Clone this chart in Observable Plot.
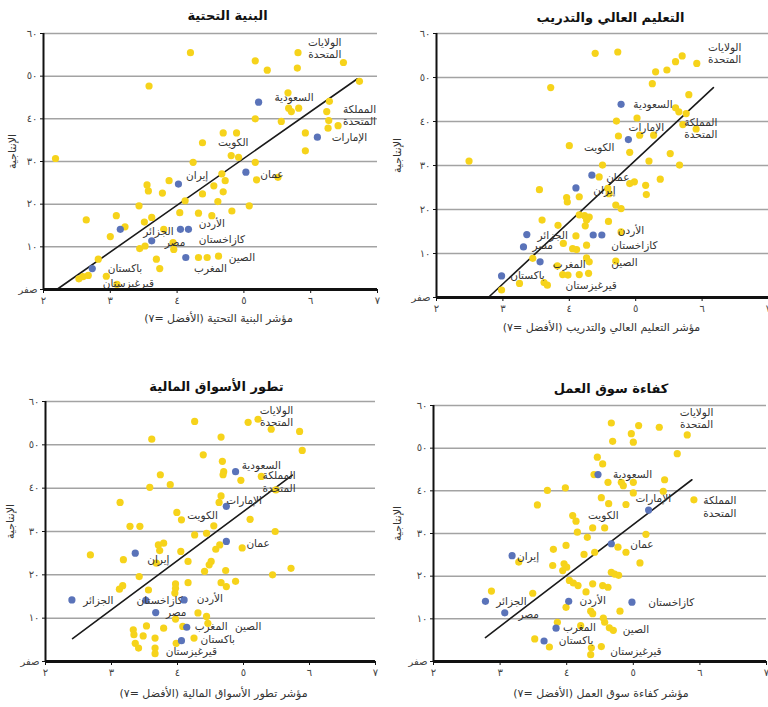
<!DOCTYPE html>
<html><head><meta charset="utf-8">
<script src="https://cdn.jsdelivr.net/npm/d3@7"></script>
<script src="https://cdn.jsdelivr.net/npm/@observablehq/plot@0.6"></script>
<style>
body{margin:0;background:#fff;}
#wrap{position:relative;width:768px;height:707px;overflow:hidden;background:#fff;}
.panel{position:absolute;}
</style></head><body><div id="wrap"></div>
<script>
// ---------- shared axis values ----------
const xTicks = [2, 3, 4, 5, 6, 7];
const yTicks = [0, 10, 20, 30, 40, 50, 60];
const yGrid = [10, 20, 30, 40, 50, 60];
const zeroLabel = "صفر";
const yTitle = "الإنتاجية";

// ---------- panel 1: infrastructure ----------
const infraTitle = "البنية التحتية";
const infraXLabel = "مؤشر البنية التحتية (الأفضل =٧)";
const infraYellow = [[4.2,55.5],[5.81,55.5],[5.17,53.6],[6.49,53.2],[5.35,51.4],[5.8,51.9],[6.73,48.8],[3.58,47.7],[5.66,46.1],[6.28,44.1],[5.67,42.5],[5.71,41.7],[5.82,42.5],[6.24,41.7],[5.17,40],[5.56,39.4],[6.27,39.6],[6.26,37.8],[6.41,38.4],[5.92,36.7],[4.69,36.7],[4.89,36.7],[4.38,34.4],[5.92,32.5],[4.81,31.4],[4.92,31],[2.18,30.7],[4.24,29.8],[5.17,29.8],[4.67,27.1],[4.72,25.5],[5.19,25.7],[5.51,26.3],[3.88,25.5],[3.55,24.5],[3.57,23.1],[3.78,22.6],[4.38,22.4],[4.55,24.3],[4.69,22.9],[4.12,20.8],[4.61,20.6],[5.08,19.6],[3.43,19.6],[4.04,18],[4.32,17.9],[4.52,17.3],[4.82,18.4],[3.09,17.3],[2.64,16.3],[3.62,16.9],[3.51,15.8],[3.22,14.7],[3.8,14.1],[3.0,12.4],[3.44,9.6],[3.52,10.2],[3.95,9.4],[3.94,11],[4.32,7.5],[4.45,7.5],[4.62,7.8],[3.69,7.1],[3.74,4.9],[2.82,7.1],[2.59,3],[2.53,2.5],[2.67,3.3],[3.1,1.2],[2.94,3.1]];
const infraBlue = [["السعودية",5.22,43.9],["الإمارات",6.1,35.7],["عمان",5.03,27.5],["إيران",4.02,24.7],["الأردن",4.05,14.1],["كازاخستان",4.17,14.1],["الجزائر",3.15,14.1],["مصر",3.62,11.4],["المغرب",4.13,7.5],["باكستان",2.73,4.9]];
const infraLabels = [["الولايات\nالمتحدة",6.21,56.6],["السعودية",5.75,45.1],["المملكة\nالمتحدة",6.73,40.8],["الإمارات",6.58,35.7],["الكويت",4.84,34.5],["عمان",5.42,27.1],["إيران",4.3,26.7],["الأردن",4.52,15.5],["الجزائر",3.72,13.7],["كازاخستان",4.67,11.8],["مصر",3.97,11],["الصين",4.97,7.6],["المغرب",4.5,5.1],["باكستان",3.22,5.1],["قيرغيزستان",3.27,1.6]];
const infraFit = [[2.2,0],[6.7,49.4]];

// ---------- panel 2: higher education and training ----------
const eduTitle = "التعليم العالي والتدريب";
const eduXLabel = "مؤشر التعليم العالي والتدريب (الأفضل =٧)";
const eduYellow = [[4.39,55.5],[4.73,55.8],[5.7,54.9],[5.6,53.6],[5.47,51.7],[5.3,51.3],[5.92,53.2],[5.25,48.6],[3.72,47.7],[5.8,46.1],[5.6,43.1],[5.65,42.2],[5.76,41.8],[4.71,40.1],[5.02,40.8],[5.71,39.3],[5.91,38.3],[4.74,36.7],[5.06,36.9],[5.27,36.9],[4.0,34.5],[4.91,33],[5.52,32.7],[5.2,31],[5.66,30.1],[2.49,31],[4.5,30.1],[4.45,27.4],[5.37,26.9],[4.91,25.9],[4.98,26.3],[5.15,25.5],[5.16,23.4],[4.58,24.8],[4.6,23.6],[3.55,24.5],[3.96,22.7],[3.97,21.7],[4.15,22.9],[4.7,21],[4.78,20.2],[4.23,18.6],[4.26,17.6],[4.3,18.3],[4.15,18.8],[3.59,17.6],[3.83,16.4],[4.24,16.3],[4.59,17.3],[4.78,14.9],[4.1,14],[3.91,12.3],[4.05,11.1],[4.11,10.9],[4.26,11.9],[4.26,9],[4.3,8.1],[4.7,8.3],[3.82,7.2],[3.9,5.2],[3.98,5.1],[4.15,5.2],[4.29,5.5],[3.62,3.4],[3.67,2.8],[3.25,3.2],[2.98,1.7],[3.45,8.9]];
const eduBlue = [["السعودية",4.78,43.9],["الإمارات",4.89,35.9],["عمان",4.34,27.8],["إيران",4.1,24.9],["الجزائر",3.36,14.3],["مصر",3.31,11.5],["الأردن",4.36,14.2],["كازاخستان",4.49,14.2],["المغرب",3.56,8.1],["باكستان",2.98,4.9]];
const eduLabels = [["الولايات\nالمتحدة",6.34,55.5],["السعودية",5.26,43.9],["الإمارات",5.16,38.8],["المملكة\nالمتحدة",5.98,38.4],["الكويت",4.45,34.2],["عمان",4.73,27.4],["إيران",4.53,24.4],["الأردن",4.93,15.3],["كازاخستان",4.98,11.9],["الجزائر",3.75,14.2],["مصر",3.6,11.9],["الصين",4.83,8.1],["المغرب",4.0,7.5],["باكستان",3.37,5.1],["قيرغيزستان",4.33,2.8]];
const eduFit = [[2.78,0],[6.17,47.7]];

// ---------- panel 3: financial market development ----------
const finTitle = "تطور الأسواق المالية";
const finXLabel = "مؤشر تطور الأسواق المالية (الأفضل =٧)";
const finYellow = [[4.26,55.4],[5.07,55.2],[5.22,55.9],[5.42,53.6],[5.85,53.1],[3.61,51.3],[4.66,51.8],[5.89,48.7],[4.39,47.7],[4.68,46.2],[4.7,43.8],[4.69,43.1],[3.74,43.1],[4.96,41.8],[5.27,42.7],[5.49,39.6],[3.89,40.8],[3.58,40.2],[3.13,36.7],[4.66,38.2],[4.63,36.7],[3.99,34.4],[4.06,32.7],[5.1,32.8],[3.28,31.2],[3.43,31.2],[4.55,31.3],[4.44,29.6],[4.26,29.2],[5.48,30],[3.71,26.9],[3.79,27.3],[3.73,25.6],[4.58,25.9],[4.64,26.9],[4.98,26.2],[4.05,25.4],[2.68,24.6],[3.18,23.5],[3.68,22.7],[4.16,23.1],[4.51,23.1],[4.48,22.3],[4.41,20.8],[4.73,21],[5.72,21.5],[5.44,20],[3.42,19.6],[4.16,18.2],[4.66,18.2],[4.74,17.3],[4.88,18.5],[3.97,17.9],[3.97,16.9],[3.96,15.8],[3.17,17.5],[3.12,16.7],[3.56,16.5],[4.31,11.2],[4.44,10.4],[4.46,8.8],[3.97,9.8],[4.08,8.1],[3.53,8.2],[3.79,7.7],[3.33,7.3],[3.34,6.2],[3.48,5.9],[3.36,4.2],[3.41,3.1],[3.66,5.4],[3.66,3.1],[3.66,1.8],[4.25,5.4],[3.98,4.2]];
const finBlue = [["السعودية",4.88,43.8],["الإمارات",4.74,35.8],["عمان",4.74,27.7],["إيران",3.36,25],["الجزائر",2.4,14.2],["الأردن",4.1,14.2],["كازاخستان",3.52,14.1],["مصر",3.67,11.3],["المغرب",4.14,7.9],["باكستان",4.06,4.8]];
const finLabels = [["الولايات\nالمتحدة",5.5,56.7],["السعودية",5.27,45.4],["المملكة\nالمتحدة",5.54,41.5],["الإمارات",5.01,37.3],["الكويت",4.38,33.8],["عمان",5.22,27.3],["إيران",3.71,23.6],["الجزائر",2.8,14.1],["كازاخستان",3.73,14.1],["الأردن",4.49,14.6],["مصر",3.98,11.5],["الصين",5.07,8.2],["المغرب",4.51,8.1],["باكستان",4.61,5.2],["قيرغيزستان",4.21,2.5]];
const finFit = [[2.41,5.3],[5.74,43]];

// ---------- panel 4: labour market efficiency ----------
const labTitle = "كفاءة سوق العمل";
const labXLabel = "مؤشر كفاءة سوق العمل (الأفضل =٧)";
const labYellow = [[4.67,55.9],[5.08,55.3],[5.39,54.9],[4.97,53.4],[5.0,51.4],[4.69,51.6],[5.81,53.1],[5.66,48.7],[4.46,47.9],[4.54,46.3],[4.41,43.8],[4.62,42],[4.82,42],[4.85,41.2],[5.0,42],[5.47,42.6],[5.45,39.9],[3.71,40.1],[3.98,40.7],[5.0,39.5],[4.52,38.4],[4.63,37],[4.89,36.8],[3.56,36.7],[5.91,37.9],[4.09,34.2],[4.14,32.9],[4.39,31.3],[4.57,31.3],[4.16,30.3],[4.31,29.1],[5.19,29.8],[3.99,27.2],[3.8,26.3],[4.77,26.8],[4.89,25.6],[4.26,25.1],[4.42,25.6],[3.28,23.3],[5.1,23.1],[3.79,22.5],[3.96,22.9],[4.0,22.1],[3.94,21.3],[4.67,20.9],[4.72,20.5],[4.78,20.2],[4.04,19],[4.1,18.4],[4.17,17.8],[4.39,18.2],[4.54,17.8],[4.62,17.4],[2.87,16.5],[3.49,16],[4.29,16.3],[3.99,12.7],[4.36,11.8],[4.39,11.2],[4.8,11.8],[4.55,10.2],[4.57,9.2],[3.86,9.2],[4.21,8.4],[4.64,7.9],[4.7,7.3],[3.52,5.3],[3.74,3.4],[4.37,3.2],[4.52,3.5],[4.36,1.6]];
const labBlue = [["السعودية",4.47,43.8],["الإمارات",5.23,35.5],["عمان",4.67,27.6],["إيران",3.18,24.8],["الجزائر",2.78,14.1],["مصر",3.07,11.4],["الأردن",4.03,14.1],["كازاخستان",4.98,13.9],["المغرب",3.84,7.8],["باكستان",3.66,4.8]];
const labLabels = [["الولايات\nالمتحدة",5.95,57.1],["السعودية",4.99,43.8],["الإمارات",5.3,38.4],["المملكة\nالمتحدة",6.3,36.3],["الكويت",4.55,34.2],["عمان",5.13,27.4],["إيران",3.42,24.8],["الجزائر",3.17,14.1],["مصر",3.43,11.2],["الأردن",4.39,14.3],["كازاخستان",5.57,13.9],["المغرب",4.19,8],["باكستان",4.14,4.9],["الصين",5.04,7.7],["قيرغيزستان",5.04,2.4]];
const labFit = [[2.78,5.6],[5.88,42.6]];

// ---------- helpers ----------
const digits = "٠١٢٣٤٥٦٧٨٩";
const toArabic = n => String(n).replace(/\d/g, d => digits[+d]);
const fmtY = n => n === 0 ? zeroLabel : toArabic(n);
const rtl = s => "\u200F" + s + "\u200F";

const YELLOW = "#f6d31b";
const BLUE = "#5a73b9";
const FONT = "'DejaVu Sans', 'Noto Sans', sans-serif";

const panels = [
  {title: infraTitle, xlabel: infraXLabel, yellow: infraYellow, blue: infraBlue, labels: infraLabels, fit: infraFit,
   left: 0, top: 0, width: 384, height: 353, m: [33, 7, 64, 43], tDx: 17, tDy: -18, xDx: 8, xDy: 29, yDx: -31},
  {title: eduTitle, xlabel: eduXLabel, yellow: eduYellow, blue: eduBlue, labels: eduLabels, fit: eduFit,
   left: 384, top: 0, width: 384, height: 353, m: [33, 0, 56, 52], tDx: 8, tDy: -16, xDx: -1, xDy: 30, yDx: -39},
  {title: finTitle, xlabel: finXLabel, yellow: finYellow, blue: finBlue, labels: finLabels, fit: finFit,
   left: 0, top: 353, width: 384, height: 354, m: [48, 9, 46, 45], tDx: 6, tDy: -15, xDx: 3, xDy: 32, yDx: -35},
  {title: labTitle, xlabel: labXLabel, yellow: labYellow, blue: labBlue, labels: labLabels, fit: labFit,
   left: 384, top: 353, width: 384, height: 354, m: [52, 2, 46, 49], tDx: 11, tDy: -17, xDx: 1, xDy: 32, yDx: -36}
];

const wrap = document.getElementById("wrap");
for (const p of panels) {
  const chart = Plot.plot({
    width: p.width,
    height: p.height,
    marginTop: p.m[0], marginRight: p.m[1], marginBottom: p.m[2], marginLeft: p.m[3],
    style: {fontFamily: FONT, background: "transparent", overflow: "visible"},
    x: {domain: [2, 7]},
    y: {domain: [0, 60]},
    marks: [
      Plot.ruleY(yGrid, {stroke: "#a3a3a3", strokeWidth: 1.5}),
      Plot.line(p.fit, {x: d => d[0], y: d => d[1], stroke: "#1a1a1a", strokeWidth: 1.6}),
      Plot.dot(p.yellow, {x: d => d[0], y: d => d[1], r: 3.6, fill: YELLOW}),
      Plot.dot(p.blue, {x: d => d[1], y: d => d[2], r: 3.6, fill: BLUE}),
      Plot.text(p.labels, {x: d => d[1], y: d => d[2], text: d => rtl(d[0]), fontSize: 10.5, fill: "#333", lineHeight: 1.15}),
      Plot.ruleY([0], {stroke: "#111", strokeWidth: 3}),
      Plot.ruleX([2], {stroke: "#111", strokeWidth: 2}),
      Plot.axisX({ticks: xTicks, tickFormat: toArabic, tickSize: 4, tickPadding: 3, fontSize: 10, stroke: "#111", fill: "#444", label: null}),
      Plot.axisY({ticks: yTicks, tickFormat: fmtY, tickSize: 3, tickPadding: 3, fontSize: 10, stroke: "#111", fill: "#444", label: null}),
      Plot.text([p.title], {text: d => rtl(d), frameAnchor: "top", textAnchor: "middle", lineAnchor: "middle", dx: p.tDx, dy: p.tDy, fontSize: 13, fontWeight: "bold", fill: "#111"}),
      Plot.text([p.xlabel], {text: d => rtl(d), frameAnchor: "bottom", textAnchor: "middle", lineAnchor: "middle", dx: p.xDx, dy: p.xDy, fontSize: 11, fill: "#333"}),
      Plot.text([yTitle], {text: d => rtl(d), frameAnchor: "left", textAnchor: "middle", lineAnchor: "middle", rotate: -90, dx: p.yDx, dy: -10, fontSize: 11, fill: "#333"})
    ]
  });
  const div = document.createElement("div");
  div.className = "panel";
  div.style.left = p.left + "px";
  div.style.top = p.top + "px";
  div.appendChild(chart);
  wrap.appendChild(div);
}
</script>
</body></html>
